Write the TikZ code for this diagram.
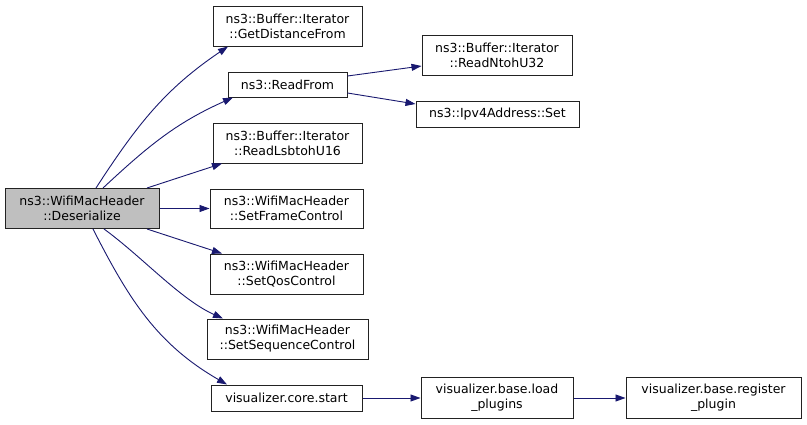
\documentclass[tikz,border=0pt]{standalone}
\usepackage{fontspec}
\setmainfont{DejaVu Sans}
\usetikzlibrary{arrows.meta}
\definecolor{edgec}{HTML}{191970}
\definecolor{boxline}{HTML}{222222}
\begin{document}
\begin{tikzpicture}[x=1pt,y=-1pt,
  fn/.style={draw=boxline,line width=1pt,fill=white,inner sep=0pt,align=center,
    font=\fontsize{12.5}{15}\selectfont},
  call/.style={draw=edgec,line width=0.9pt,-{Triangle[length=10pt,width=7pt]}}]
\useasboundingbox[fill=white] (0,0) rectangle (807,424);
\node[fn,fill={rgb,255:red,191;green,191;blue,191},minimum width=154pt,minimum height=40pt] (des) at (82,208.5) {ns3::WifiMacHeader\\::Deserialize};
\node[fn,minimum width=149pt,minimum height=40pt] (gdf) at (287.5,26) {ns3::Buffer::Iterator\\::GetDistanceFrom};
\node[fn,minimum width=119pt,minimum height=25pt] (rf) at (287.5,84.5) {ns3::ReadFrom};
\node[fn,minimum width=149pt,minimum height=40pt] (rl) at (287.5,143) {ns3::Buffer::Iterator\\::ReadLsbtohU16};
\node[fn,minimum width=153pt,minimum height=39pt] (sfc) at (286.5,208.5) {ns3::WifiMacHeader\\::SetFrameControl};
\node[fn,minimum width=153pt,minimum height=40pt] (sqc) at (286.5,274) {ns3::WifiMacHeader\\::SetQosControl};
\node[fn,minimum width=161pt,minimum height=40pt] (ssc) at (287.5,339) {ns3::WifiMacHeader\\::SetSequenceControl};
\node[fn,minimum width=151pt,minimum height=26pt] (cs) at (286.5,398) {visualizer.core.start};
\node[fn,minimum width=150pt,minimum height=40pt] (rn) at (497,55) {ns3::Buffer::Iterator\\::ReadNtohU32};
\node[fn,minimum width=163pt,minimum height=26pt] (ips) at (497.5,114) {ns3::Ipv4Address::Set};
\node[fn,minimum width=152pt,minimum height=41pt] (lp) at (497,398) {visualizer.base.load\\\_plugins};
\node[fn,minimum width=175pt,minimum height=41pt] (rp) at (713.5,398) {visualizer.base.register\\\_plugin};

\draw[call] ([xshift=14pt]des.north) to[out=57,in=214] ([xshift=-59.5pt]gdf.south);
\draw[call] ([xshift=21pt]des.north) to[out=43,in=204] ([xshift=-54.5pt]rf.south);
\draw[call] ([xshift=65pt]des.north) -- ([xshift=-65.5pt]rl.south);
\draw[call] (des.east) -- (sfc.west);
\draw[call] ([xshift=65pt]des.south) -- ([xshift=-64.5pt]sqc.north);
\draw[call] ([xshift=22pt]des.south) to[out=-36,in=156,looseness=0.8] ([xshift=-64.5pt]ssc.north);
\draw[call] ([xshift=11pt]des.south) to[out=-63,in=150] ([xshift=-59.5pt]cs.north);
\draw[call] ([yshift=8.5pt]rf.east) -- ([yshift=-11pt]rn.west);
\draw[call] ([yshift=-8.5pt]rf.east) -- ([yshift=10pt]ips.west);
\draw[call] (cs.east) -- (lp.west);
\draw[call] (lp.east) -- (rp.west);
\end{tikzpicture}
\end{document}
